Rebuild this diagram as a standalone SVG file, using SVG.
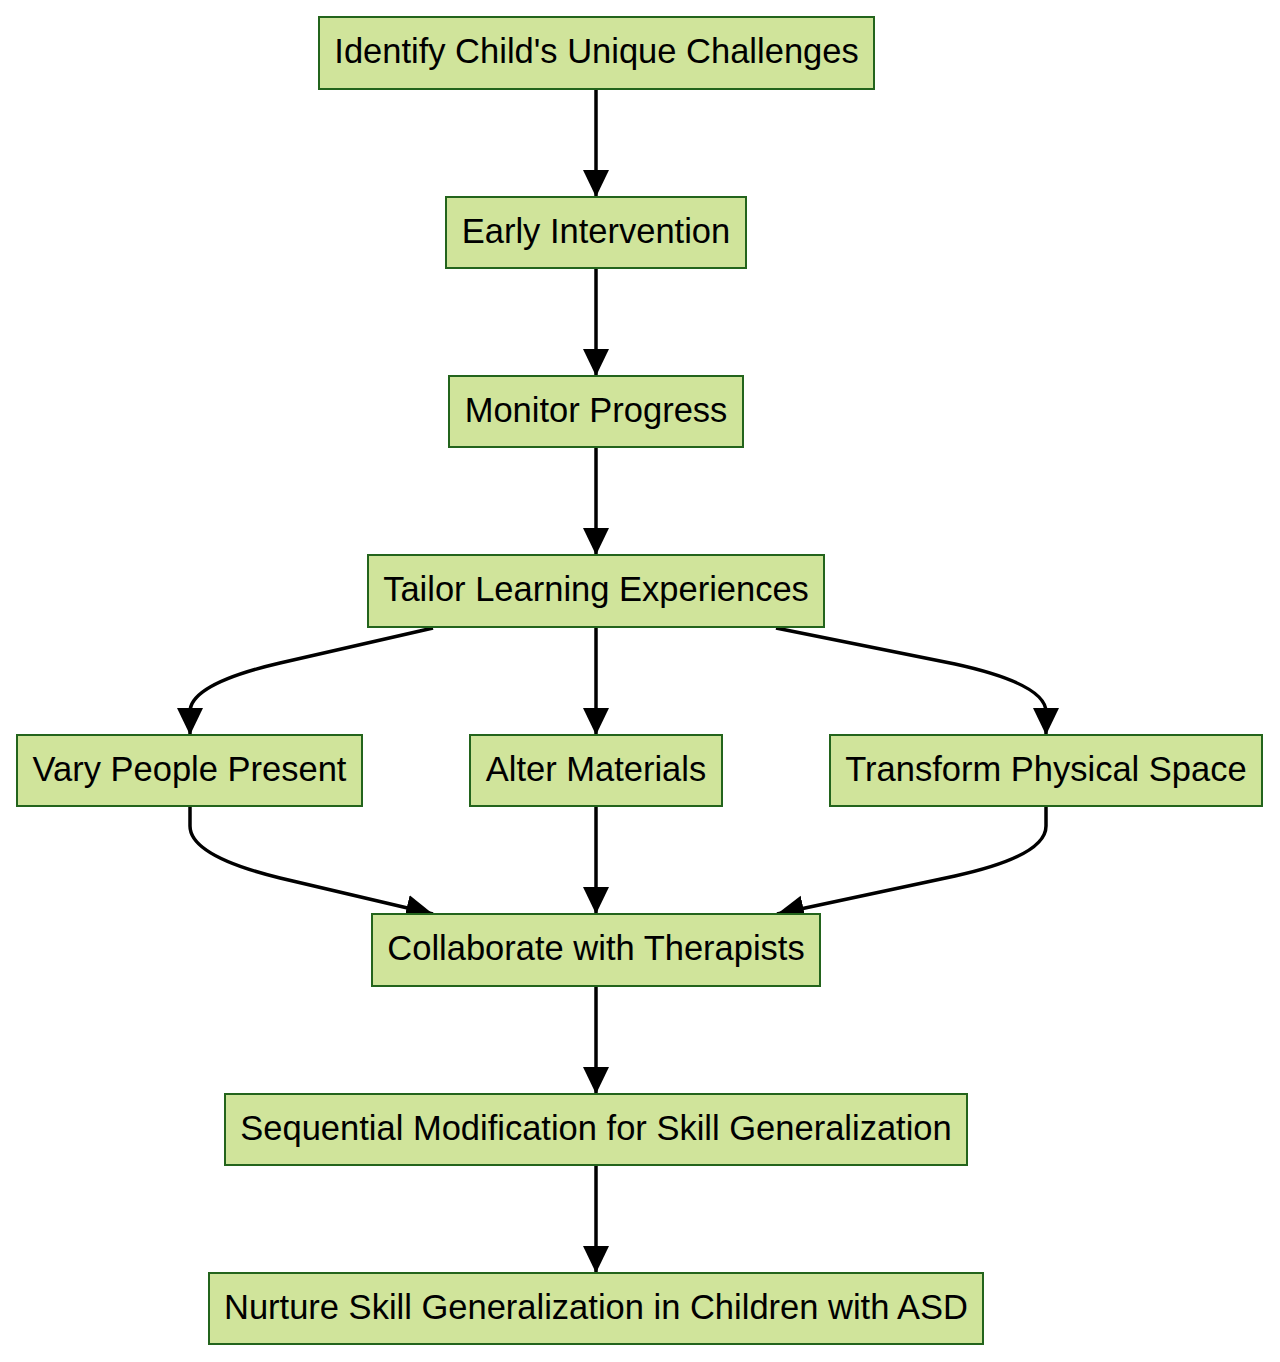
<svg xmlns="http://www.w3.org/2000/svg" width="1280" height="1362" viewBox="0 0 1280 1362">
<defs>
<style>
.node rect{fill:#d0e49b;stroke:#23641c;stroke-width:2}
.node text{font-family:"Liberation Sans",Arial,sans-serif;font-size:34.5px;fill:#000;text-anchor:middle}
.edge{fill:none;stroke:#000;stroke-width:3.5}
</style>
<marker id="arr" markerUnits="userSpaceOnUse" markerWidth="28" markerHeight="28" viewBox="0 0 28 28" refX="27" refY="14" orient="auto">
<path d="M0,1 L27,14 L0,27 z" fill="#000"/>
</marker>
</defs>
<rect width="1280" height="1362" fill="#fff"/>
<g id="connectors">
<path class="edge" d="M596,89 L596,197" marker-end="url(#arr)"/>
<path class="edge" d="M596,268 L596,376" marker-end="url(#arr)"/>
<path class="edge" d="M596,447 L596,555" marker-end="url(#arr)"/>
<path class="edge" d="M596,627 L596,735" marker-end="url(#arr)"/>
<path class="edge" d="M433,628 L280,663 Q190,684 190,712 L190,735" marker-end="url(#arr)"/>
<path class="edge" d="M776,628 L955,664 Q1046,684 1046,712 L1046,735" marker-end="url(#arr)"/>
<path class="edge" d="M190,806 L190,826 Q190,856 280,878 L433,914" marker-end="url(#arr)"/>
<path class="edge" d="M596,806 L596,914" marker-end="url(#arr)"/>
<path class="edge" d="M1046,806 L1046,826 Q1046,856 955,876 L777,914" marker-end="url(#arr)"/>
<path class="edge" d="M596,986 L596,1094" marker-end="url(#arr)"/>
<path class="edge" d="M596,1165 L596,1273" marker-end="url(#arr)"/>
</g>
<g id="n1" class="node"><rect x="319" y="17" width="555" height="72"/><text x="596.5" y="63">Identify Child's Unique Challenges</text></g>
<g id="n2" class="node"><rect x="446" y="197" width="300" height="71"/><text x="596" y="243">Early Intervention</text></g>
<g id="n3" class="node"><rect x="449" y="376" width="294" height="71"/><text x="596" y="422">Monitor Progress</text></g>
<g id="n4" class="node"><rect x="368" y="555" width="456" height="72"/><text x="596" y="601">Tailor Learning Experiences</text></g>
<g id="n5" class="node"><rect x="17" y="735" width="345" height="71"/><text x="189.5" y="781">Vary People Present</text></g>
<g id="n6" class="node"><rect x="470" y="735" width="252" height="71"/><text x="596" y="781">Alter Materials</text></g>
<g id="n7" class="node"><rect x="830" y="735" width="432" height="71"/><text x="1046" y="781">Transform Physical Space</text></g>
<g id="n8" class="node"><rect x="372" y="914" width="448" height="72"/><text x="596" y="960">Collaborate with Therapists</text></g>
<g id="n9" class="node"><rect x="225" y="1094" width="742" height="71"/><text x="596" y="1140">Sequential Modification for Skill Generalization</text></g>
<g id="n10" class="node"><rect x="209" y="1273" width="774" height="71"/><text x="596" y="1319">Nurture Skill Generalization in Children with ASD</text></g>
</svg>
